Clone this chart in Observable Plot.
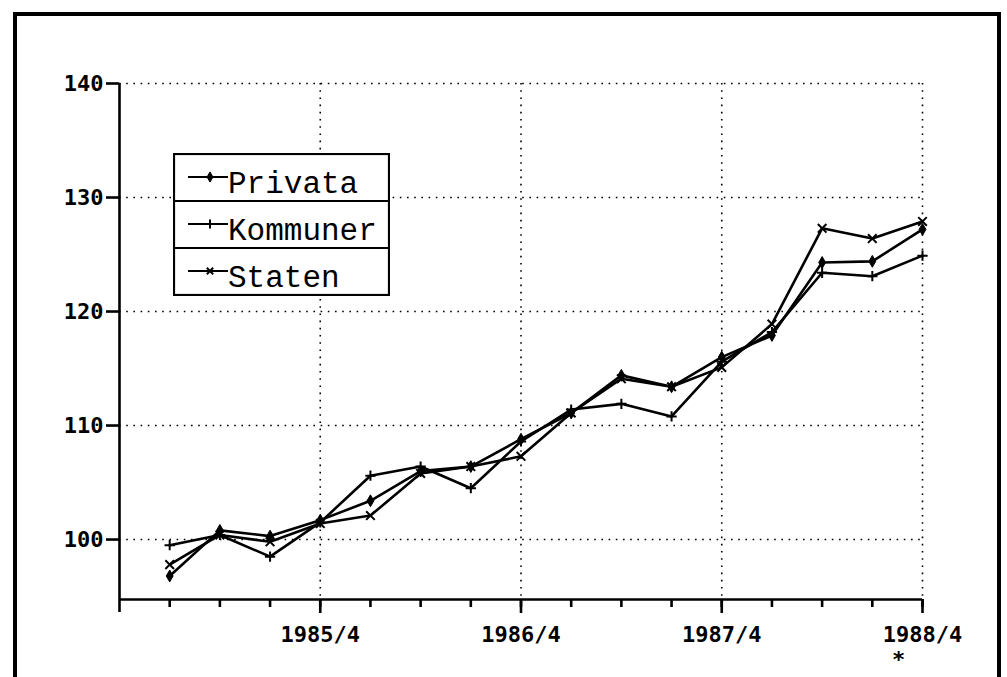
<!DOCTYPE html>
<html>
<head>
<meta charset="utf-8">
<script src="https://cdn.jsdelivr.net/npm/d3@7"></script>
<script src="https://cdn.jsdelivr.net/npm/@observablehq/plot@0.6"></script>
<style>
  body { margin: 0; background: #fff; }
  #wrap { position: relative; width: 1007px; height: 677px; overflow: hidden; background: #fff; }
  #border { position: absolute; left: 13px; top: 12px; width: 980px; height: 720px; border: 4px solid #000; pointer-events: none; }
  #chart { position: absolute; left: 0; top: 0; }
  #legend { position: absolute; left: 173px; top: 153px; }
</style>
</head>
<body>
<div id="wrap">
  <div id="chart"></div>
  <div id="border"></div>
  <div id="legend"></div>
</div>
<script>
// ---- data ----
const quarters = ["1985/1","1985/2","1985/3","1985/4","1986/1","1986/2","1986/3","1986/4",
                  "1987/1","1987/2","1987/3","1987/4","1988/1","1988/2","1988/3","1988/4"];
const privata  = [96.8, 100.8, 100.3, 101.7, 103.4, 106.0, 106.4, 108.8, 111.1, 114.4, 113.4, 116.0, 117.9, 124.3, 124.4, 127.2];
const kommuner = [99.5, 100.4,  98.5, 101.5, 105.6, 106.4, 104.5, 108.6, 111.4, 111.9, 110.8, 115.6, 118.2, 123.4, 123.1, 124.9];
const staten   = [97.8, 100.4,  99.8, 101.4, 102.1, 105.8, 106.4, 107.3, 111.1, 114.1, 113.4, 115.1, 118.9, 127.3, 126.4, 127.9];
const seriesNames = ["Privata", "Kommuner", "Staten"];
const yTicks = [100, 110, 120, 130, 140];
const labelledQuarters = ["1985/4", "1986/4", "1987/4", "1988/4"];
const notes = [{quarter: "1988/4", text: "*"}];

// ---- build table ----
const seriesValues = {Privata: privata, Kommuner: kommuner, Staten: staten};
const data = seriesNames.flatMap(s => quarters.map((q, i) => ({series: s, quarter: q, idx: i + 1, value: seriesValues[s][i]})));
const qIndex = q => quarters.indexOf(q) + 1;

const yMin = 94.74;
const ink = "#000";
const dotted = {stroke: ink, strokeOpacity: 1, strokeWidth: 1.6, strokeDasharray: "1.6,5.6"};

const chart = Plot.plot({
  width: 1007,
  height: 677,
  marginLeft: 119,
  marginRight: 85,
  marginTop: 83,
  marginBottom: 78,
  style: {background: "transparent", color: ink, fontFamily: "'DejaVu Sans Mono', monospace", fontSize: "22px", fontWeight: "bold"},
  x: {domain: [0, quarters.length]},
  y: {domain: [yMin, 140]},
  marks: [
    Plot.gridY(yTicks, dotted),
    Plot.gridX(labelledQuarters.map(qIndex), dotted),
    Plot.ruleX([0], {y1: 93.6, y2: 140, stroke: ink, strokeWidth: 2.6}),
    Plot.ruleY([yMin], {stroke: ink, strokeWidth: 2.6}),
    Plot.axisY(yTicks, {tickSize: 13, tickPadding: 3, label: null, strokeWidth: 2.6, fontWeight: "bold"}),
    Plot.axisX(quarters.map(qIndex), {tickSize: 8, tickFormat: () => "", label: null, strokeWidth: 2.6}),
    Plot.axisX(labelledQuarters.map(qIndex), {tickSize: 14, tickPadding: 13, tickFormat: i => quarters[i - 1], label: null, strokeWidth: 2.6, fontWeight: "bold"}),
    Plot.line(data, {x: "idx", y: "value", z: "series", stroke: ink, strokeWidth: 2.6}),
    Plot.dot(data.filter(d => d.series === "Privata"), {x: "idx", y: "value", symbol: "diamond", r: 3.6, fill: ink, stroke: ink, strokeWidth: 1}),
    Plot.dot(data.filter(d => d.series === "Kommuner"), {x: "idx", y: "value", symbol: "plus", r: 3.4, stroke: ink, strokeWidth: 2}),
    Plot.dot(data.filter(d => d.series === "Staten"), {x: "idx", y: "value", symbol: "times", r: 4, stroke: ink, strokeWidth: 2}),
    Plot.text(notes, {x: d => qIndex(d.quarter), y: () => yMin, text: "text", dy: 60, dx: -24, fontSize: 22, fontWeight: "bold", fill: ink})
  ]
});
document.getElementById("chart").appendChild(chart);

// ---- legend (inside the plot area, as in the reference) ----
const lw = 217, rowH = 47;
const lsvg = d3.select("#legend").append("svg")
  .attr("width", lw).attr("height", rowH * 3 + 2)
  .style("display", "block");
lsvg.append("rect").attr("x", 1).attr("y", 1).attr("width", lw - 2).attr("height", rowH * 3)
  .attr("fill", "#fff").attr("stroke", ink).attr("stroke-width", 2.2);
const symbols = {Privata: d3.symbolDiamond, Kommuner: d3.symbolPlus, Staten: d3.symbolTimes};
seriesNames.forEach((s, i) => {
  const top = 1 + i * rowH;
  if (i > 0) lsvg.append("line").attr("x1", 1).attr("x2", lw - 1).attr("y1", top).attr("y2", top)
    .attr("stroke", ink).attr("stroke-width", 2.2);
  const ly = top + 23;
  lsvg.append("line").attr("x1", 15).attr("x2", 55).attr("y1", ly).attr("y2", ly)
    .attr("stroke", ink).attr("stroke-width", 2.2);
  const filled = s === "Privata";
  lsvg.append("path").attr("d", d3.symbol(symbols[s], filled ? 30 : 28)())
    .attr("transform", `translate(37,${ly})`)
    .attr("fill", filled ? ink : "none").attr("stroke", ink).attr("stroke-width", filled ? 1 : 2);
  lsvg.append("text").attr("x", 55).attr("y", top + 39)
    .attr("font-family", "'Liberation Mono', 'Courier New', monospace")
    .attr("font-size", 31).attr("fill", ink).text(s);
});
</script>
</body>
</html>
